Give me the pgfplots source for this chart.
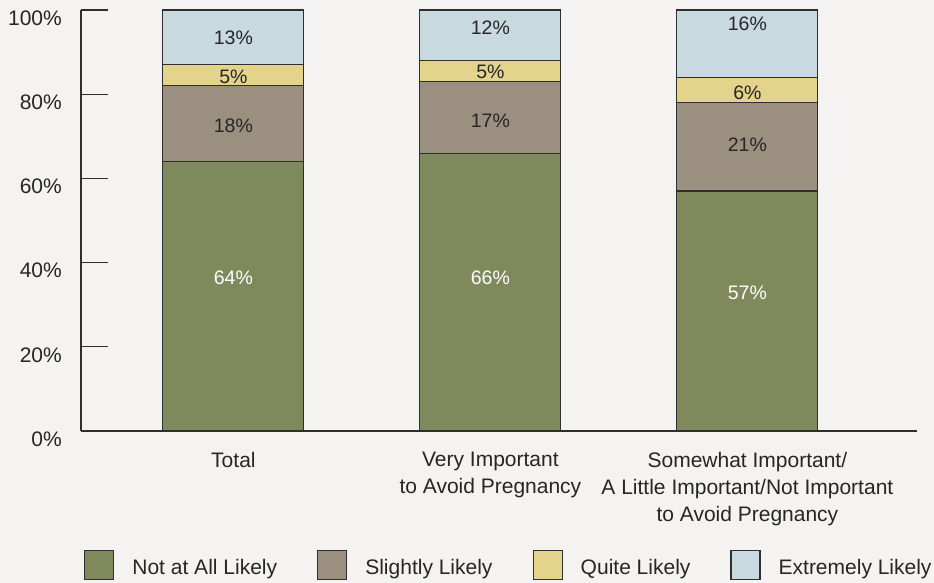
\documentclass[border=0pt]{standalone}
\usepackage{pgfplots}
\pgfplotsset{compat=1.18}
\usepackage{fontspec}
\setmainfont{Liberation Sans}

\definecolor{bg}{HTML}{F4F3F1}
\definecolor{cgreen}{HTML}{7E8A5C}
\definecolor{ctaupe}{HTML}{9B8F80}
\definecolor{cyellow}{HTML}{E3D38B}
\definecolor{cblue}{HTML}{C9D9E0}
\definecolor{edge}{HTML}{2E2E2E}
\definecolor{txt}{HTML}{262626}

\newcommand\fbig{\fontsize{21}{27}\selectfont}
\newcommand\fbar{\fontsize{19.5}{24}\selectfont}

\pgfplotsset{
  common/.style={
    scale only axis, width=836pt, height=421pt,
    xmin=-0.593, xmax=2.66, ymin=0, ymax=100,
  },
}

\begin{document}
\begin{tikzpicture}
\fill[bg] (-81pt,-152pt) rectangle (853pt,431pt);

\begin{axis}[
  common,
  at={(0,0)}, anchor=south west,
  ybar stacked, bar width=141pt,
  axis x line*=bottom, axis y line*=left,
  axis line style={draw=edge, line width=1.3pt, -},
  xtick={0,1,2},
  xticklabels={Total, {Very Important\\to Avoid Pregnancy},
    {Somewhat Important/\\A Little Important/Not Important\\to Avoid Pregnancy}},
  xtick style={draw=none},
  xticklabel style={align=center, font=\fbig, text=txt, inner sep=0pt, yshift=-21pt},
  ytick={0,20,40,60,80,100},
  yticklabels={0\%,20\%,40\%,60\%,80\%,100\%},
  ytick style={draw=edge, line width=1.3pt},
  major tick length=27pt, tick align=inside,
  yticklabel style={anchor=east, font=\fbig, text=txt, inner sep=0pt, xshift=-19pt, yshift=-8pt},
  legend columns=4,
  legend style={at={(0,0)}, anchor=north west, xshift=3pt, yshift=-119pt,
    draw=none, fill=none, inner sep=0pt,
    nodes={inner sep=0pt, font=\fbig, text=txt},
    /tikz/every even column/.append style={column sep=40pt}},
  legend image code/.code={
    \draw[#1] (0pt,-12pt) rectangle (29pt,17pt);
    \path (47pt,0pt);
  },
]
\addplot[fill=cgreen, draw=edge, line width=1.2pt] coordinates {(0,64) (1,66) (2,57)};
\addplot[fill=ctaupe, draw=edge, line width=1.2pt] coordinates {(0,18) (1,17) (2,21)};
\addplot[fill=cyellow, draw=edge, line width=1.2pt] coordinates {(0,5) (1,5) (2,6)};
\addplot[fill=cblue, draw=edge, line width=1.2pt] coordinates {(0,13) (1,12) (2,16)};
\legend{Not at All Likely, Slightly Likely, Quite Likely, Extremely Likely}
\end{axis}

% labels of the segments, at the places they stand in the original
\begin{axis}[
  common,
  at={(0,0)}, anchor=south west,
  hide axis,
  nodes near coords,
  point meta=explicit symbolic,
  every node near coord/.append style={anchor=center, inner sep=0pt, font=\fbar},
]
\addplot[draw=none, mark=none, every node near coord/.append style={text=white}]
  coordinates {(0,36.3)[64\%] (1,36.5)[66\%] (2,32.9)[57\%]};
\addplot[draw=none, mark=none, every node near coord/.append style={text=txt}]
  coordinates {(0,72.4)[18\%] (1,73.6)[17\%] (2,67.9)[21\%]
               (0,84.2)[5\%] (1,85.3)[5\%] (2,80.3)[6\%]
               (0,93.5)[13\%] (1,95.9)[12\%] (2,96.7)[16\%]};
\end{axis}
\end{tikzpicture}
\end{document}
